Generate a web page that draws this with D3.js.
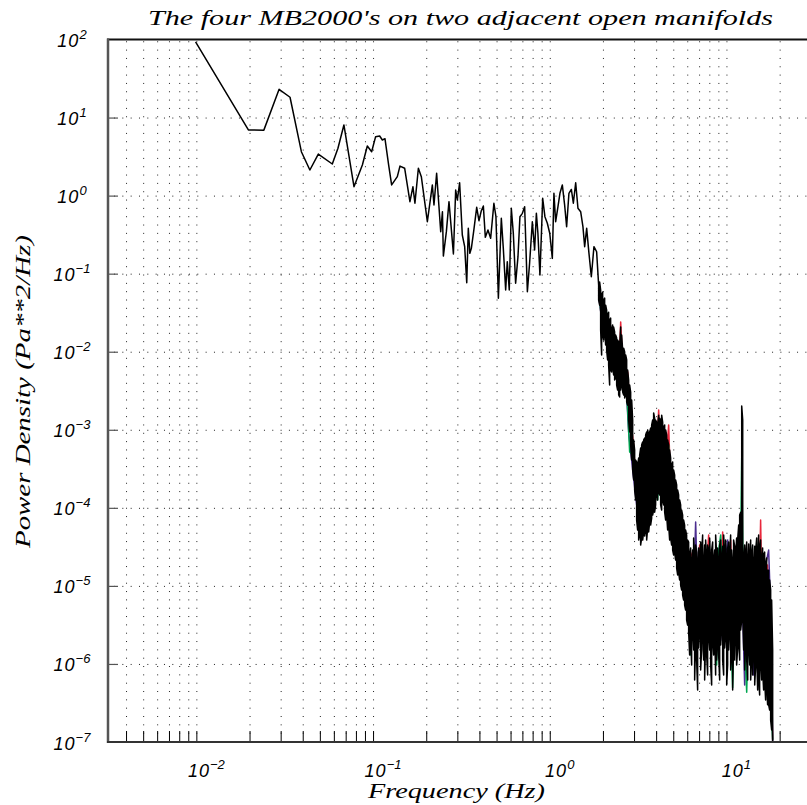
<!DOCTYPE html>
<html>
<head>
<meta charset="utf-8">
<script src="https://cdn.jsdelivr.net/npm/d3@7"></script>
<style>
  body { margin: 0; background: #fff; }
  svg { display: block; }
  .lbl { font-family: "Liberation Sans", Arial, sans-serif; font-style: italic; fill: #000; }
  .ser { font-family: "Liberation Serif", "DejaVu Serif", serif; font-style: italic; fill: #000; }
</style>
</head>
<body>
<div id="chart"></div>
<script>
!(function () {
  // - - - - - - - - - -
  // black sensor, low / mid frequencies (Hz, Pa**2/Hz)
  const lowFreq = [0.0099, 0.0197, 0.0241, 0.0294, 0.0339, 0.0393, 0.0439, 0.049, 0.0588, 0.0633,
    0.0684, 0.078, 0.087, 0.0928, 0.0982, 0.1034, 0.109, 0.1129, 0.1168, 0.1225,
    0.1274, 0.1372, 0.142, 0.151, 0.1617, 0.1682, 0.1726, 0.1805, 0.1876, 0.2029,
    0.2166, 0.2212, 0.229, 0.2415, 0.247, 0.25, 0.26, 0.269, 0.285, 0.2935,
    0.300, 0.309, 0.320, 0.330, 0.339, 0.346, 0.353, 0.360, 0.372, 0.386,
    0.3975, 0.410, 0.421, 0.432, 0.447, 0.463, 0.483, 0.496, 0.512, 0.532,
    0.546, 0.563, 0.575, 0.590, 0.606, 0.622, 0.641, 0.661, 0.678, 0.700,
    0.721, 0.747, 0.769, 0.797, 0.821, 0.840, 0.857, 0.880, 0.912, 0.939,
    0.969, 1.00, 1.034, 1.056, 1.080, 1.113, 1.142, 1.178, 1.214, 1.246,
    1.284, 1.325, 1.360, 1.402, 1.444, 1.496, 1.541, 1.576, 1.618, 1.667,
    1.719, 1.779, 1.842];
  const lowPsd = [93.5, 6.93, 6.9, 23.0, 18.2, 3.65, 2.13, 3.41, 2.54, 4.04,
    8.03, 1.30, 2.47, 4.32, 3.65, 5.69, 5.8, 5.16, 5.36, 2.47,
    1.37, 1.75, 2.39, 2.24, 0.836, 1.30, 0.798, 2.24, 1.75, 0.463,
    1.37, 0.758, 1.93, 0.345, 0.622, 0.168, 0.345, 0.836, 0.179, 1.18,
    0.879, 1.46, 0.313, 0.222, 0.0766, 0.381, 0.182, 0.211, 0.363, 0.708,
    0.477, 0.641, 0.736, 0.292, 0.363, 0.284, 0.798, 0.537, 0.0484, 0.512,
    0.211, 0.0618, 0.142, 0.0618, 0.689, 0.329, 0.0753, 0.165, 0.537, 0.593,
    0.721, 0.0587, 0.136, 0.463, 0.201, 0.593, 0.329, 0.0962, 0.924, 0.537,
    0.442, 0.329, 0.157, 1.07, 0.463, 0.721, 1.07, 1.37, 0.758, 0.40,
    1.07, 1.20, 0.798, 1.46, 0.689, 0.622, 0.40, 0.222, 0.381, 0.182,
    0.0914, 0.222, 0.191];

  // black sensor, dense part: max / min per frequency column
  const denseFreq = [1.891, 1.916, 1.941, 1.966, 1.992, 2.018, 2.045, 2.072, 2.099, 2.126,
    2.154, 2.182, 2.211, 2.240, 2.269, 2.299, 2.329, 2.360, 2.391, 2.422,
    2.455, 2.487, 2.520, 2.553, 2.586, 2.620, 2.655, 2.689, 2.725, 2.760,
    2.796, 2.833, 2.870, 2.908, 2.946, 2.984, 3.023, 3.063, 3.103, 3.144,
    3.185, 3.227, 3.269, 3.312, 3.355, 3.399, 3.444, 3.489, 3.535, 3.581,
    3.628, 3.676, 3.724, 3.773, 3.822, 3.872, 3.923, 3.974, 4.027, 4.079,
    4.134, 4.188, 4.243, 4.299, 4.355, 4.412, 4.470, 4.529, 4.588, 4.648,
    4.709, 4.771, 4.833, 4.897, 4.961, 5.026, 5.092, 5.159, 5.227, 5.295,
    5.363, 5.433, 5.505, 5.577, 5.650, 5.724, 5.799, 5.875, 5.952, 6.030,
    6.110, 6.190, 6.271, 6.354, 6.437, 6.521, 6.607, 6.694, 6.781, 6.870,
    6.960, 7.051, 7.144, 7.238, 7.332, 7.429, 7.526, 7.625, 7.725, 7.826,
    7.930, 8.034, 8.140, 8.246, 8.354, 8.464, 8.575, 8.687, 8.801, 8.917,
    9.035, 9.154, 9.274, 9.396, 9.518, 9.643, 9.770, 9.898, 10.03, 10.16,
    10.29, 10.42, 10.56, 10.70, 10.84, 10.98, 11.13, 11.27, 11.42, 11.57,
    11.73, 11.88, 12.04, 12.20, 12.36, 12.52, 12.68, 12.85, 13.02, 13.19,
    13.36, 13.54, 13.71, 13.89, 14.07, 14.26, 14.45, 14.64, 14.83, 15.02,
    15.21, 15.41, 15.61, 15.82, 16.02, 16.23, 16.45, 16.66, 16.88, 17.10,
    17.33, 17.56, 17.79, 18.02, 18.26];
  const blackMax = [7.14e-2, 7.8e-2, 6.17e-2, 5.32e-2, 5.8e-2, 4.59e-2, 4.87e-2, 3.95e-2, 3.42e-2, 2.95e-2,
    3.2e-2, 2.55e-2, 2.7e-2, 1.90e-2, 2.2e-2, 2.07e-2, 1.79e-2, 1.64e-2, 1.5e-2, 1.41e-2,
    1.33e-2, 1.22e-2, 2.07e-2, 1.64e-2, 1.05e-2, 1.11e-2, 9.9e-3, 9.08e-3, 7.83e-3, 5.83e-3,
    4.34e-3, 3.74e-3, 3.04e-3, 2.41e-3, 1.33e-3, 7.39e-4, 5.50e-4, 4.10e-4, 3.86e-4, 3.53e-4,
    4.35e-4, 4.75e-4, 5.84e-4, 6.38e-4, 6.97e-4, 7.39e-4, 7.84e-4, 8.57e-4, 9.36e-4, 9.93e-4,
    8.57e-4, 9.36e-4, 1.05e-3, 1.15e-3, 1.33e-3, 1.64e-3, 1.41e-3, 1.33e-3, 1.25e-3, 1.15e-3,
    1.54e-3, 1.41e-3, 1.33e-3, 1.54e-3, 1.25e-3, 1.08e-3, 1.15e-3, 9.93e-4, 8.57e-4, 7.39e-4,
    6.38e-4, 5.50e-4, 4.35e-4, 3.53e-4, 3.86e-4, 3.05e-4, 2.63e-4, 2.27e-4, 1.96e-4, 1.69e-4,
    1.46e-4, 1.26e-4, 1.09e-4, 9.36e-5, 8.07e-5, 6.97e-5, 6.01e-5, 5.19e-5, 4.48e-5, 3.86e-5,
    3.64e-5, 2.48e-5, 3.05e-5, 1.85e-5, 2.88e-5, 4.1e-5, 2.14e-5, 3.33e-5, 2.71e-5, 1.69e-5,
    3.05e-5, 2.14e-5, 3.64e-5, 2.48e-5, 4.48e-5, 1.85e-5, 3.33e-5, 3.86e-5, 2.14e-5, 3.33e-5,
    2.88e-5, 4.1e-5, 1.69e-5, 2.88e-5, 3.64e-5, 2.14e-5, 2.88e-5, 4.48e-5, 2.48e-5, 3.05e-5,
    1.85e-5, 3.33e-5, 3.86e-5, 2.14e-5, 3.23e-5, 4.48e-5, 2.48e-5, 3.86e-5, 1.69e-5, 3.05e-5,
    3.64e-5, 2.14e-5, 4.48e-5, 2.88e-5, 1.85e-5, 3.86e-5, 3.23e-5, 2.48e-5, 4.1e-5, 3.86e-5,
    6.01e-5, 8.07e-5, 8.8e-5, 2.01e-3, 1.33e-3, 2.14e-5, 3.33e-5, 2.48e-5, 3.64e-5, 1.85e-5,
    3.43e-5, 2.14e-5, 3.86e-5, 2.48e-5, 3.33e-5, 1.69e-5, 3.23e-5, 2.88e-5, 4.1e-5, 2.14e-5,
    4.48e-5, 3.05e-5, 3.86e-5, 2.14e-5, 3.05e-5, 2.48e-5, 2.71e-5, 1.85e-5, 2.27e-5, 1.59e-5,
    1.59e-5, 1.19e-5, 8.85e-6, 6.59e-6, 1.51e-6];
  const blackMin = [4.59e-2, 3.95e-2, 1.90e-2, 9.08e-3, 1.64e-2, 1.41e-2, 1.90e-2, 1.22e-2, 1.05e-2, 7.83e-3,
    6.75e-3, 3.74e-3, 5.83e-3, 5.5e-3, 6.75e-3, 5.03e-3, 4.34e-3, 4.6e-3, 3.74e-3, 3.23e-3,
    2.79e-3, 2.63e-3, 3.23e-3, 3.74e-3, 3.04e-3, 2.79e-3, 2.56e-3, 2.79e-3, 2.27e-3, 2.07e-3,
    1.33e-3, 9.36e-4, 6.38e-4, 4.10e-4, 3.05e-4, 2.27e-4, 1.69e-4, 1.26e-4, 6.97e-5, 5.19e-5,
    3.86e-5, 4.48e-5, 3.33e-5, 4.1e-5, 3.86e-5, 4.9e-5, 4.35e-5, 5.19e-5, 3.86e-5, 5.5e-5,
    4.9e-5, 6.57e-5, 6.01e-5, 7.39e-5, 8.07e-5, 9.36e-5, 8.8e-5, 1.09e-4, 1.46e-4, 1.26e-4,
    1.59e-4, 1.46e-4, 1.09e-4, 9.36e-5, 1.26e-4, 1.09e-4, 8.8e-5, 6.97e-5, 8.07e-5, 5.19e-5,
    6.01e-5, 3.86e-5, 4.1e-5, 3.33e-5, 2.88e-5, 2.48e-5, 2.71e-5, 2.14e-5, 1.69e-5, 1.38e-5,
    1.5e-5, 1.19e-5, 1.03e-5, 8.85e-6, 7.63e-6, 6.59e-6, 5.69e-6, 4.91e-6, 3.65e-6, 3.15e-6,
    2.56e-6, 1.3e-6, 2.35e-6, 9.68e-7, 2.72e-6, 1.51e-6, 6.22e-7, 2.02e-6, 1.12e-6, 4.63e-7,
    1.6e-6, 2.72e-6, 8.35e-7, 1.51e-6, 3.15e-6, 1.12e-6, 6.22e-7, 2.02e-6, 1.3e-6, 7.21e-7,
    2.35e-6, 1.51e-6, 9.68e-7, 5.37e-7, 2.02e-6, 1.3e-6, 2.72e-6, 7.21e-7, 1.12e-6, 2.02e-6,
    1.3e-6, 6.22e-7, 1.75e-6, 3.15e-6, 1.12e-6, 7.21e-7, 1.6e-6, 2.35e-6, 5.37e-7, 9.68e-7,
    1.51e-6, 2.72e-6, 8.35e-7, 1.3e-6, 4.63e-7, 2.02e-6, 1.12e-6, 2.72e-6, 9.68e-7, 1.6e-6,
    2.02e-6, 1.12e-6, 2.72e-6, 3.65e-6, 4.91e-6, 1.51e-6, 8.35e-7, 2.02e-6, 1.12e-6, 6.22e-7,
    1.75e-6, 9.68e-7, 6.22e-7, 1.3e-6, 7.21e-7, 1.51e-6, 5.37e-7, 9.68e-7, 1.3e-6, 4.63e-7,
    7.21e-7, 4.0e-7, 1.12e-6, 6.22e-7, 8.35e-7, 4.63e-7, 6.22e-7, 3.45e-7, 5.37e-7, 3.0e-7,
    3.0e-7, 2.57e-7, 1.91e-7, 1.43e-7, 9.1e-8];

  // the other three sensors, where they show from under the black one
  const redFreq = [1.891, 1.992, 2.099, 2.211, 2.329, 2.455, 2.520, 2.620, 2.760, 2.870,
    2.984, 3.103, 3.185, 3.312, 3.489, 3.628, 3.724, 3.923, 4.134, 4.299,
    4.529, 4.709, 4.897, 5.159, 5.363, 5.650, 5.952, 6.190, 6.437, 6.694,
    7.051, 7.429, 7.930, 8.246, 8.687, 9.154, 9.518, 10.03, 10.56, 10.98,
    11.73, 12.20, 12.52, 13.19, 13.89, 14.64, 15.21, 15.61, 16.02, 16.66,
    17.10, 17.56, 18.02, 18.26];
  const redPsd = [6.17e-2, 1.90e-2, 2.95e-2, 7.83e-3, 1.64e-2, 4.34e-3, 2.4e-2, 3.74e-3, 5.5e-3, 1.33e-3,
    6.38e-4, 1.26e-4, 2.63e-4, 3.86e-5, 3.05e-4, 6.97e-5, 5.50e-4, 1.26e-4, 1.79e-3, 2.27e-4,
    3.05e-4, 1.15e-3, 6.97e-5, 1.26e-4, 2.14e-5, 3.86e-5, 6.59e-6, 2.14e-5, 2.71e-5, 3.65e-6,
    3.33e-5, 3.65e-6, 4.48e-5, 2.02e-6, 2.14e-5, 3.65e-6, 4.9e-5, 2.02e-6, 3.86e-5, 2.72e-6,
    2.14e-5, 1.59e-5, 6.59e-6, 2.14e-5, 2.02e-6, 1.59e-5, 3.65e-6, 6.97e-5, 2.02e-6, 1.19e-5,
    1.85e-5, 1.51e-6, 3.45e-7, 1.07e-7];

  const blueFreq = [1.891, 2.018, 2.126, 2.240, 2.360, 2.487, 2.655, 2.796, 2.946, 3.103,
    3.269, 3.444, 3.628, 3.822, 4.027, 4.243, 4.470, 4.648, 4.833, 5.092,
    5.363, 5.650, 5.952, 6.271, 6.437, 6.694, 6.960, 7.238, 7.526, 7.930,
    8.354, 8.801, 9.274, 9.770, 10.16, 10.56, 10.98, 11.73, 12.20, 12.68,
    13.19, 13.71, 14.26, 14.83, 15.61, 16.45, 17.33, 17.79, 18.26];
  const bluePsd = [5.32e-2, 1.64e-2, 2.55e-2, 6.2e-3, 1.41e-2, 3.43e-3, 7.83e-3, 9.36e-4, 3.05e-4, 1.09e-4,
    2.27e-4, 6.01e-5, 4.75e-4, 1.09e-4, 9.93e-4, 1.69e-4, 7.39e-4, 9.36e-5, 2.87e-4, 3.86e-5,
    6.97e-5, 1.19e-5, 2.14e-5, 6.59e-6, 3.15e-6, 6.57e-5, 2.72e-6, 2.14e-5, 1.12e-6, 1.59e-5,
    2.72e-6, 2.14e-5, 2.02e-6, 1.59e-5, 3.86e-5, 2.02e-6, 1.59e-5, 2.02e-6, 1.19e-5, 5.37e-7,
    1.19e-5, 2.02e-6, 7.21e-7, 1.19e-5, 1.51e-6, 1.59e-5, 2.88e-5, 4.91e-6, 1.0e-7];

  const greenFreq = [1.891, 1.992, 2.099, 2.211, 2.329, 2.455, 2.586, 2.725, 2.833, 2.946,
    3.103, 3.269, 3.444, 3.628, 3.822, 3.872, 4.079, 4.299, 4.529, 4.709,
    4.833, 5.092, 5.363, 5.650, 5.952, 6.271, 6.521, 6.694, 7.051, 7.526,
    7.930, 8.354, 8.801, 9.035, 9.274, 9.770, 10.29, 10.84, 11.27, 11.88,
    12.20, 12.52, 13.02, 13.54, 14.07, 14.64, 15.21, 15.61, 16.45, 17.10,
    17.79, 18.26];
  const greenPsd = [6.55e-2, 1.79e-2, 3.2e-2, 6.75e-3, 1.5e-2, 3.74e-3, 1.05e-2, 3.23e-3, 5.18e-4, 4.75e-4,
    2.27e-4, 3.05e-4, 6.97e-5, 5.18e-4, 9.36e-5, 4.48e-4, 1.26e-4, 8.3e-4, 9.36e-5, 6.38e-4,
    1.09e-4, 6.97e-5, 5.19e-5, 8.85e-6, 1.59e-5, 1.30e-6, 2.14e-5, 1.75e-6, 2.14e-5, 1.6e-6,
    1.59e-5, 3.65e-6, 9.68e-7, 2.88e-5, 4.48e-5, 2.72e-6, 1.59e-5, 4.95e-7, 1.85e-5, 3.65e-6,
    4.35e-4, 3.65e-6, 4.35e-7, 1.19e-5, 2.02e-6, 1.38e-5, 2.14e-5, 2.72e-6, 1.19e-5, 2.02e-6,
    3.45e-7, 1.07e-7];

  const xLabelExp = [-2, -1, 0, 1];
  const yLabelExp = [2, 1, 0, -1, -2, -3, -4, -5, -6, -7];

  // - - - - - - - - - -
  let
    svg,
    width = 807,
    height = 805,
    left = 108,
    top = 39.5,
    bottom = 742,
    xScale = d3.scaleLog()
      .domain([Math.pow(10, -2.5), Math.pow(10, 1.5)])
      .range([left, 814.8]),
    yScale = d3.scaleLog()
      .domain([1e-7, 1e2])
      .range([bottom, top]);

  const xTicks = [];
  for (let e = -3; e <= 1; e++) {
    for (let m = 1; m <= 9; m++) {
      const v = m * Math.pow(10, e);
      if (v > xScale.domain()[0] && v < xScale.domain()[1]) xTicks.push(+v.toPrecision(3));
    }
  }
  const yGrid = yLabelExp.filter(e => e < 2 && e > -7).map(e => Math.pow(10, e));

  svg = d3.select('#chart')
    .append('svg')
    .attr('width', width)
    .attr('height', height)
    .attr('viewBox', '0 0 ' + width + ' ' + height);

  svg.append('defs').append('clipPath').attr('id', 'plot')
    .append('rect')
    .attr('x', left).attr('y', top)
    .attr('width', width - left).attr('height', bottom - top);

  // dotted grid
  svg.append('g')
    .attr('transform', 'translate(0,' + bottom + ')')
    .call(d3.axisBottom(xScale).tickValues(xTicks).tickSize(-(bottom - top)).tickFormat(''))
    .call(g => g.select('.domain').remove())
    .call(g => g.selectAll('line')
      .attr('stroke', '#222')
      .attr('stroke-dasharray', '1,7.33'));

  svg.append('g')
    .attr('transform', 'translate(' + left + ',0)')
    .call(d3.axisLeft(yScale).tickValues(yGrid).tickSize(-(width - left)).tickFormat(''))
    .call(g => g.select('.domain').remove())
    .call(g => g.selectAll('line')
      .attr('stroke', '#222')
      .attr('stroke-dasharray', '1,7.33')
      .attr('stroke-dashoffset', -6));

  // series
  const line = d3.line()
    .x(d => xScale(d.f))
    .y(d => yScale(d.v));

  const zip = (fs, vs) => fs.map((f, i) => ({ f: f, v: vs[i] })).filter(d => d.v !== undefined);

  const black = zip(lowFreq, lowPsd);
  denseFreq.forEach((f, i) => {
    const a = { f: f, v: blackMax[i] }, b = { f: f, v: blackMin[i] };
    if (i % 2 === 0) black.push(a, b); else black.push(b, a);
  });

  const series = [
    { data: zip(redFreq, redPsd), color: '#e8283c', w: 1.5 },
    { data: zip(blueFreq, bluePsd), color: '#4b2d8f', w: 1.5 },
    { data: zip(greenFreq, greenPsd), color: '#00a651', w: 1.5 },
    { data: black, color: '#000', w: 1.5 }
  ];

  svg.append('g')
    .attr('clip-path', 'url(#plot)')
    .selectAll('path')
    .data(series)
    .enter()
    .append('path')
    .attr('d', d => line(d.data))
    .attr('fill', 'none')
    .attr('stroke', d => d.color)
    .attr('stroke-width', d => d.w)
    .attr('stroke-linejoin', 'round');

  // tick marks
  svg.append('g')
    .attr('transform', 'translate(0,' + bottom + ')')
    .call(d3.axisBottom(xScale).tickValues(xTicks).tickSize(-11).tickFormat(''))
    .call(g => g.select('.domain').remove())
    .call(g => g.selectAll('line').attr('stroke', '#000').attr('stroke-width', 1));

  svg.append('g')
    .attr('transform', 'translate(' + left + ',0)')
    .call(d3.axisLeft(yScale).tickValues(yGrid).tickSize(-10).tickFormat(''))
    .call(g => g.select('.domain').remove())
    .call(g => g.selectAll('line').attr('stroke', '#555').attr('stroke-width', 1.2));

  // frame
  svg.append('line')
    .attr('x1', left - 1).attr('x2', width).attr('y1', top).attr('y2', top)
    .attr('stroke', '#111').attr('stroke-width', 2);
  svg.append('line')
    .attr('x1', left).attr('x2', left).attr('y1', top - 1).attr('y2', bottom + 1)
    .attr('stroke', '#555').attr('stroke-width', 2.5);
  svg.append('line')
    .attr('x1', left - 1).attr('x2', width).attr('y1', bottom).attr('y2', bottom)
    .attr('stroke', '#333').attr('stroke-width', 2.2);

  // tick labels
  const minus = e => (e < 0 ? '\u2212' + (-e) : '' + e);

  const xl = svg.append('g').selectAll('text')
    .data(xLabelExp)
    .enter()
    .append('text')
    .attr('class', 'lbl')
    .attr('x', d => xScale(Math.pow(10, d)) + 10)
    .attr('y', 777)
    .attr('text-anchor', 'middle')
    .style('font-size', '18px');
  xl.append('tspan').attr('letter-spacing', 1).text('10');
  xl.append('tspan').attr('dy', -8).style('font-size', '13px').text(d => minus(d));

  const yl = svg.append('g').selectAll('text')
    .data(yLabelExp)
    .enter()
    .append('text')
    .attr('class', 'lbl')
    .attr('x', 72)
    .attr('y', d => yScale(Math.pow(10, d)) + 7.5)
    .attr('text-anchor', 'middle')
    .style('font-size', '18px');
  yl.append('tspan').attr('letter-spacing', 1).text('10');
  yl.append('tspan').attr('dy', -8).style('font-size', '13px').text(d => minus(d));

  // titles
  svg.append('text')
    .attr('class', 'ser')
    .attr('x', 460.5).attr('y', 25)
    .attr('text-anchor', 'middle')
    .attr('textLength', 625).attr('lengthAdjust', 'spacingAndGlyphs')
    .style('font-size', '21px')
    .text("The four MB2000's on two adjacent open manifolds");

  svg.append('text')
    .attr('class', 'ser')
    .attr('x', 456.5).attr('y', 798)
    .attr('text-anchor', 'middle')
    .attr('textLength', 177).attr('lengthAdjust', 'spacingAndGlyphs')
    .style('font-size', '21px')
    .text('Frequency (Hz)');

  svg.append('text')
    .attr('class', 'ser')
    .attr('transform', 'translate(30,391.5) rotate(-90)')
    .attr('text-anchor', 'middle')
    .attr('textLength', 313).attr('lengthAdjust', 'spacingAndGlyphs')
    .style('font-size', '21px')
    .text('Power Density (Pa**2/Hz)');

  // - - - - - - - - - -
}());
</script>
</body>
</html>
